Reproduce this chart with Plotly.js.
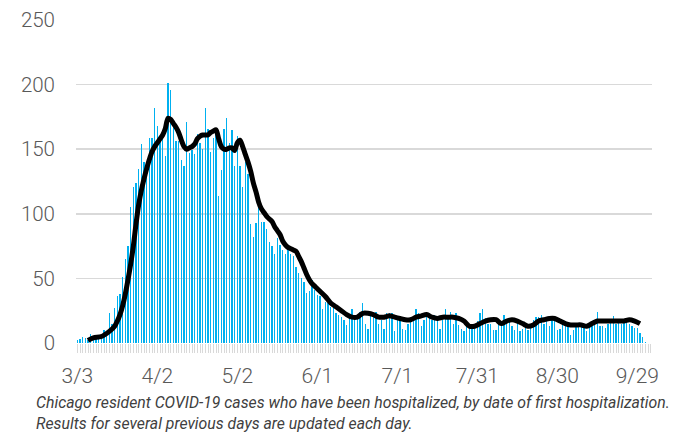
<!DOCTYPE html>
<html>
<head>
<meta charset="utf-8">
<script src="https://cdn.plot.ly/plotly-3.0.1.min.js"></script>
<style>html,body{margin:0;padding:0;background:#fff;}#chart{width:680px;height:435px;}</style>
</head>
<body>
<div id="chart"></div>
<script>
// Daily hospitalized cases, starting 2020-03-03 (one value per day)
const startDate = [2020, 2, 3];
const dailyCases = [
  2,3,5,4,2,7,5,6,5,7,
  10,9,23,15,27,36,38,51,65,75,
  105,121,124,135,154,140,130,159,159,182,
  168,160,160,145,201,196,168,156,156,142,
  137,171,147,149,146,162,155,150,182,166,
  148,159,162,114,134,166,174,155,165,137,
  160,137,121,140,131,92,82,93,107,94,
  94,88,78,75,69,81,76,72,69,73,
  69,67,59,54,50,47,39,40,49,41,
  37,36,26,32,31,28,27,23,22,20,
  18,14,20,26,20,20,24,31,15,11,
  24,20,24,15,18,11,23,23,23,9,
  18,21,11,10,15,20,20,26,23,13,
  18,23,23,18,22,20,11,18,26,22,
  24,15,23,14,11,9,17,13,11,13,
  17,23,26,19,15,15,10,10,17,15,
  22,18,17,13,10,17,9,11,13,10,
  13,18,20,20,22,15,18,13,18,20,
  10,11,15,15,13,6,10,14,13,13,
  15,9,15,17,15,24,13,13,12,15,
  17,21,15,18,15,18,17,15,13,12,
  12,8,5,1
];
// 7-day average line (day offset from start, value)
const avgDay = [4,6,9,12,14,15,16,17,18,19,20,21,22,23,24,25,26,27,28,29,30,31,32,33,34,35,36,37,38,39,40,41,42,43,44,45,46,47,48,49,50,51,52,53,54,55,56,57,58,59,60,61,62,63,64,65,66,67,68,69,70,71,72,73,74,75,76,77,78,79,80,81,82,83,84,85,86,87,88,89,90,91,93,95,97,99,101,103,105,107,109,111,113,115,117,119,121,123,125,127,129,131,133,135,137,139,141,143,145,147,149,151,153,155,157,159,161,163,165,167,169,171,173,175,177,179,181,183,185,187,189,191,193,195,197,199,201,203,205,207,209,211];
const avgVal = [2,4,5,9,13,17,22,29,38,49,61,75,92,107,118,127,135,142,148,152,155,158,161,166,174,173,170,167,163,157,152,150,151,152,154,158,160,161,161,161,163,164,165,158,152,150,150,151,151,149,155,157,152,146,140,133,124,117,109,104,101,98,96,94,90,87,84,79,76,74,73,72,71,67,63,58,53,49,46,44,42,40,36,31,28,25,22,20,20,23,23,22,20,20,21,20,19,18,18,20,21,22,20,19,20,20,20,19,17,13,13,15,17,18,18,15,17,18,17,15,13,14,17,18,19,19,17,15,14,14,14,13,15,17,17,17,17,17,17,18,17,15];
const tickLabelsEvery = 30; // days between labelled ticks
const caption = "Chicago resident COVID-19 cases who have been hospitalized, by date of first hospitalization.<br>Results for several previous days are updated each day.";

function dayStr(off) {
  const d = new Date(Date.UTC(startDate[0], startDate[1], startDate[2] + off));
  return d.toISOString().slice(0, 10);
}
const barX = dailyCases.map((_, i) => dayStr(i));
const lineX = avgDay.map(dayStr);
const DAY = 86400000;

const traces = [
  {type: 'bar', x: barX, y: dailyCases, marker: {color: '#00b0f0'}, width: DAY * 0.5, hoverinfo: 'x+y'},
  {type: 'scatter', mode: 'lines', x: lineX, y: avgVal, line: {color: '#000000', width: 5, shape: 'spline', smoothing: 0.8}}
];

const layout = {
  width: 680, height: 435,
  margin: {l: 76, r: 28, t: 20, b: 92},
  paper_bgcolor: '#ffffff', plot_bgcolor: '#ffffff',
  showlegend: false,
  bargap: 0,
  font: {family: 'Roboto, "Noto Sans", sans-serif', color: '#595959', size: 20},
  xaxis: {
    type: 'date',
    range: [dayStr(-1) + ' 12:00', dayStr(215) + ' 12:00'],
    tick0: dayStr(0), dtick: tickLabelsEvery * DAY, tickformat: '%-m/%-d',
    ticks: 'outside', ticklen: 9, tickcolor: '#d9d9d9', tickwidth: 1,
    minor: {dtick: DAY, tick0: dayStr(0), ticks: 'outside', ticklen: 9, tickcolor: '#d9d9d9', tickwidth: 1, showgrid: false},
    showgrid: false, zeroline: false, showline: false,
    ticklabelstandoff: 5,
    tickfont: {size: 21, color: '#595959', family: 'Roboto, sans-serif', weight: 300}
  },
  yaxis: {
    range: [0, 250], dtick: 50, tick0: 0,
    showgrid: true, gridcolor: '#d9d9d9', gridwidth: 1.5,
    zeroline: false, showline: false, ticks: '',
    ticklabelstandoff: 20,
    tickfont: {size: 20.5, color: '#595959', family: 'Roboto, sans-serif', weight: 300}
  },
  annotations: [{
    xref: 'paper', yref: 'paper', x: 0, y: -0.148, xanchor: 'left', yanchor: 'top', xshift: -42,
    align: 'left', showarrow: false, text: caption,
    font: {family: 'Roboto, sans-serif', size: 15.8, color: '#404040', style: 'italic'}
  }]
};

Plotly.newPlot('chart', traces, layout, {staticPlot: true, displayModeBar: false});
</script>
</body>
</html>
